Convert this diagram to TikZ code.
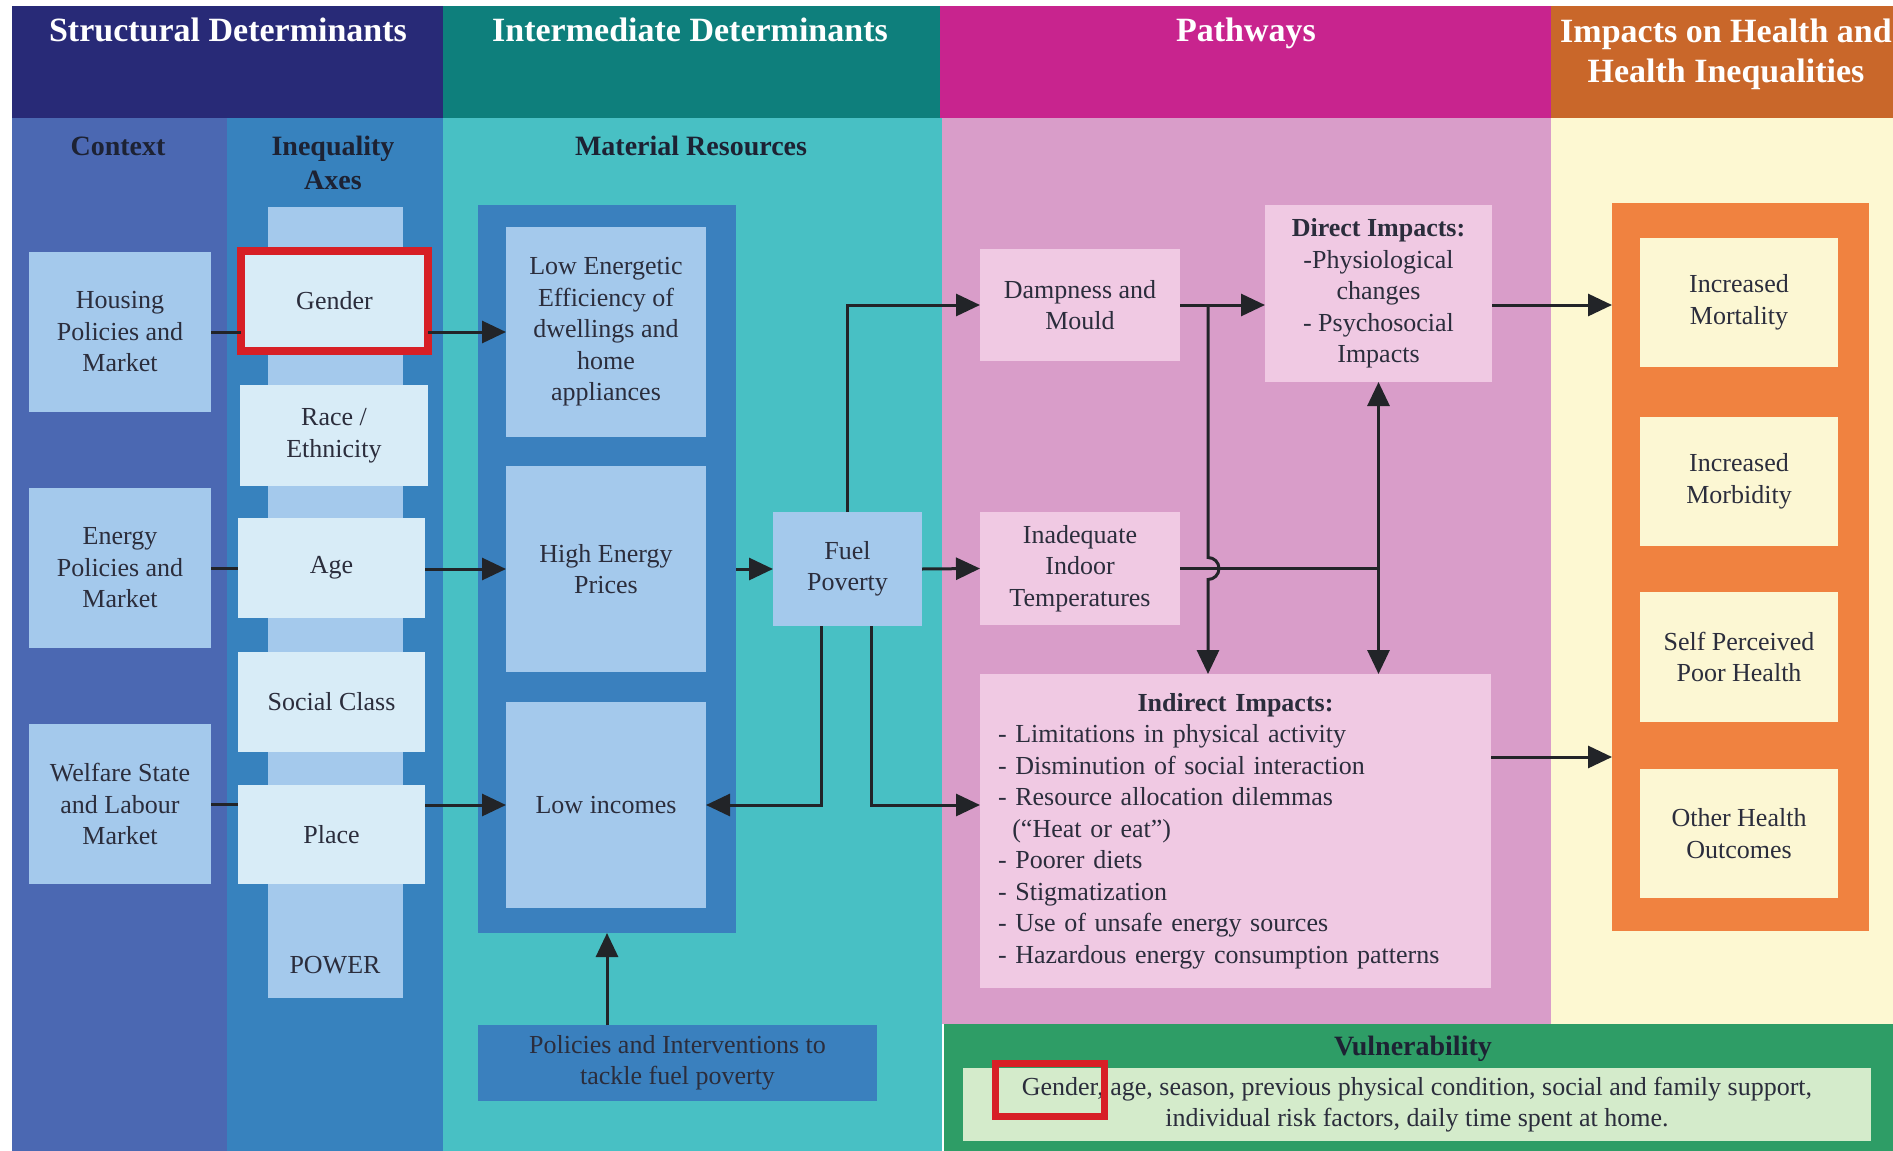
\documentclass[tikz,border=0pt]{standalone}
\usepackage{fontspec}
\setmainfont{Liberation Serif}
\usetikzlibrary{arrows.meta,calc}
\definecolor{navyh}{HTML}{282A77}
\definecolor{tealh}{HTML}{0E7F7C}
\definecolor{magh}{HTML}{C8248E}
\definecolor{orah}{HTML}{C9672A}
\definecolor{ctxc}{HTML}{4B68B2}
\definecolor{ineqc}{HTML}{3782BE}
\definecolor{tealc}{HTML}{48C0C4}
\definecolor{pinkc}{HTML}{D99DC9}
\definecolor{creamc}{HTML}{FDF8D2}
\definecolor{lblue}{HTML}{A4C9EC}
\definecolor{pblue}{HTML}{D8ECF7}
\definecolor{mblue}{HTML}{3A80BE}
\definecolor{lpink}{HTML}{F0C9E3}
\definecolor{oframe}{HTML}{F08240}
\definecolor{cbox}{HTML}{FCF7D3}
\definecolor{greenc}{HTML}{2E9D66}
\definecolor{lgreen}{HTML}{D4EBCB}
\definecolor{redh}{HTML}{D71F26}
\definecolor{txtc}{HTML}{2B2D3C}
\definecolor{hdrc}{HTML}{1D2233}
\definecolor{arrc}{HTML}{222428}
\begin{document}
\begin{tikzpicture}[x=1pt,y=-1pt,
  box/.style={rectangle, inner sep=0pt, outer sep=0pt, align=center, text=txtc,
              font=\fontsize{26}{31.5}\selectfont},
  ctxbox/.style={box, fill=lblue},
  axbox/.style={box, fill=pblue},
  matbox/.style={box, fill=lblue},
  pathbox/.style={box, fill=lpink},
  outbox/.style={box, fill=cbox},
  hdrtext/.style={text=white, align=center, inner sep=0pt, font=\fontsize{34}{40}\selectfont\bfseries},
  colhdr/.style={text=hdrc, align=center, inner sep=0pt, font=\fontsize{28}{34}\selectfont\bfseries},
  ln/.style={draw=arrc, line width=3pt},
  arr/.style={draw=arrc, line width=3pt, -{Triangle[length=24pt,width=22pt]}}]
\useasboundingbox (0,0) rectangle (1893,1151);
\clip (0,0) rectangle (1893,1151);
\fill[white] (0,0) rectangle (1893,1151);
% header bands
\fill[navyh] (12,6) rectangle (443,118);
\fill[tealh] (443,6) rectangle (940,118);
\fill[magh] (940,6) rectangle (1551,118);
\fill[orah] (1551,6) rectangle (1893,118);
% column bodies
\fill[ctxc] (12,118) rectangle (227,1151);
\fill[ineqc] (227,118) rectangle (443,1151);
\fill[tealc] (443,118) rectangle (942,1151);
\fill[pinkc] (942,118) rectangle (1551,1024);
\fill[creamc] (1551,118) rectangle (1893,1024);
% header texts
\node[hdrtext, anchor=base] (h1) at (228,41.5) {Structural Determinants};
\node[hdrtext, anchor=base] (h2) at (690,41.5) {Intermediate Determinants};
\node[hdrtext, anchor=base] (h3) at (1246,41.5) {Pathways};
\node[hdrtext] (h4) at (1726,54) {Impacts on Health and\\Health Inequalities};
\node[colhdr] (c1) at (118,146) {Context};
\node[colhdr] (c2) at (333,163) {Inequality\\Axes};
\node[colhdr] (c3) at (691,146) {Material Resources};
% inequality strip
\fill[lblue] (268,207) rectangle (403,998);
\node[box, text=txtc] (power) at (335,965) {POWER};
% context boxes
\node[ctxbox, minimum width=182, minimum height=160] (housing) at (120,332) {Housing\\Policies and\\Market};
\node[ctxbox, minimum width=182, minimum height=160] (energy) at (120,568) {Energy\\Policies and\\Market};
\node[ctxbox, minimum width=182, minimum height=160] (welfare) at (120,804) {Welfare State\\and Labour\\Market};
% axes boxes
\node[axbox, draw=redh, line width=8pt, minimum width=187, minimum height=100] (gender) at (334.5,301) {Gender};
\node[axbox, minimum width=188, minimum height=101] (race) at (334,435.5) {Race /\\Ethnicity};
\node[axbox, minimum width=187, minimum height=100] (age) at (331.5,568) {Age};
\node[axbox, minimum width=187, minimum height=100] (social) at (331.5,702) {Social Class};
\node[axbox, minimum width=187, minimum height=99] (place) at (331.5,834.5) {Place};
% material resources
\node[box, fill=mblue, minimum width=258, minimum height=728] (frame) at (607,569) {};
\node[matbox, minimum width=200, minimum height=210] (lowen) at (606,332) {Low Energetic\\Efficiency of\\dwellings and\\home\\appliances};
\node[matbox, minimum width=200, minimum height=206] (highen) at (606,569) {High Energy\\Prices};
\node[matbox, minimum width=200, minimum height=206] (lowinc) at (606,805) {Low incomes};
\node[matbox, minimum width=149, minimum height=114] (fuel) at (847.5,569) {Fuel\\Poverty};
\node[box, fill=mblue, minimum width=399, minimum height=76] (policies) at (677.5,1063) {Policies and Interventions to\\tackle fuel poverty};
% pathways
\node[pathbox, minimum width=200, minimum height=112] (damp) at (1080,305) {Dampness and\\Mould};
\node[pathbox, minimum width=200, minimum height=113] (inad) at (1080,568.5) {Inadequate\\Indoor\\Temperatures};
\node[pathbox, minimum width=227, minimum height=177] (direct) at (1378.5,293.5) {\textbf{Direct Impacts:}\\-Physiological\\changes\\- Psychosocial\\Impacts};
\node[pathbox, minimum width=511, minimum height=314, text width=475, align=left] (indirect) at (1235.5,831)
 {\makebox[475pt]{\textbf{Indirect Impacts:}}\\
  - Limitations in physical activity\\
  - Disminution of social interaction\\
  - Resource allocation dilemmas\\
  \hspace*{0.55em}(“Heat or eat”)\\
  - Poorer diets\\
  - Stigmatization\\
  - Use of unsafe energy sources\\
  - Hazardous energy consumption patterns};
% outcomes
\node[box, fill=oframe, minimum width=257, minimum height=728] (oframe) at (1740.5,567) {};
\node[outbox, minimum width=198, minimum height=129] (mort) at (1739,302.5) {Increased\\Mortality};
\node[outbox, minimum width=198, minimum height=129] (morb) at (1739,481.5) {Increased\\Morbidity};
\node[outbox, minimum width=198, minimum height=130] (self) at (1739,657) {Self Perceived\\Poor Health};
\node[outbox, minimum width=198, minimum height=129] (other) at (1739,833.5) {Other Health\\Outcomes};
% vulnerability
\node[box, fill=greenc, minimum width=950, minimum height=130] (vul) at (1419,1089) {};
\node[colhdr] (vultitle) at (1413,1049) {Vulnerability};
\node[box, fill=lgreen, minimum width=908, minimum height=73, font=\fontsize{26}{31}\selectfont] (vultext) at (1417,1104.5)
 {Gender, age, season, previous physical condition, social and family support,\\individual risk factors, daily time spent at home.};
\draw[redh, line width=7pt] (995.5,1063.5) rectangle (1104.5,1116.5);
% connectors: structural -> intermediate
\draw[ln] (housing.east) -- (housing.east -| gender.west);
\draw[arr] (gender.east |- lowen.west) -- (lowen.west);
\draw[ln] (energy.east) -- (age.west |- energy.east);
\draw[arr] (age.east |- highen.west) -- (highen.west);
\draw[ln] (welfare.east) -- (place.west |- welfare.east);
\draw[arr] (place.east |- lowinc.west) -- (lowinc.west);
\draw[arr] (frame.east) -- (fuel.west);
\draw[arr] (policies.north -| frame.south) -- (frame.south);
% fuel poverty
\draw[arr] (fuel.north) |- (damp.west);
\draw[arr] (fuel.east) -- (inad.west);
\draw[arr] ([xshift=-26pt]fuel.south) |- (lowinc.east);
\draw[arr] ([xshift=24pt]fuel.south) |- (indirect.west |- lowinc.east);
% pathways connectors
\draw[arr] (damp.east) -- (direct.west |- damp.east);
\coordinate (hx) at ([xshift=28pt]damp.east);
\coordinate (jn) at (direct.south |- inad.east);
\draw[ln] (inad.east) -- (jn);
\draw[arr] (jn) -- (direct.south);
\draw[arr] (jn) -- (indirect.north -| jn);
\draw[arr] (hx) -- ([yshift=11pt]hx |- inad.east) arc[start angle=90, end angle=-90, radius=11pt] -- (indirect.north -| hx);
% to outcomes
\draw[arr] (direct.east |- damp.east) -- (oframe.west |- damp.east);
\coordinate (ie) at ([yshift=74pt]indirect.east);
\draw[arr] (ie) -- (ie -| oframe.west);
\end{tikzpicture}
\end{document}
